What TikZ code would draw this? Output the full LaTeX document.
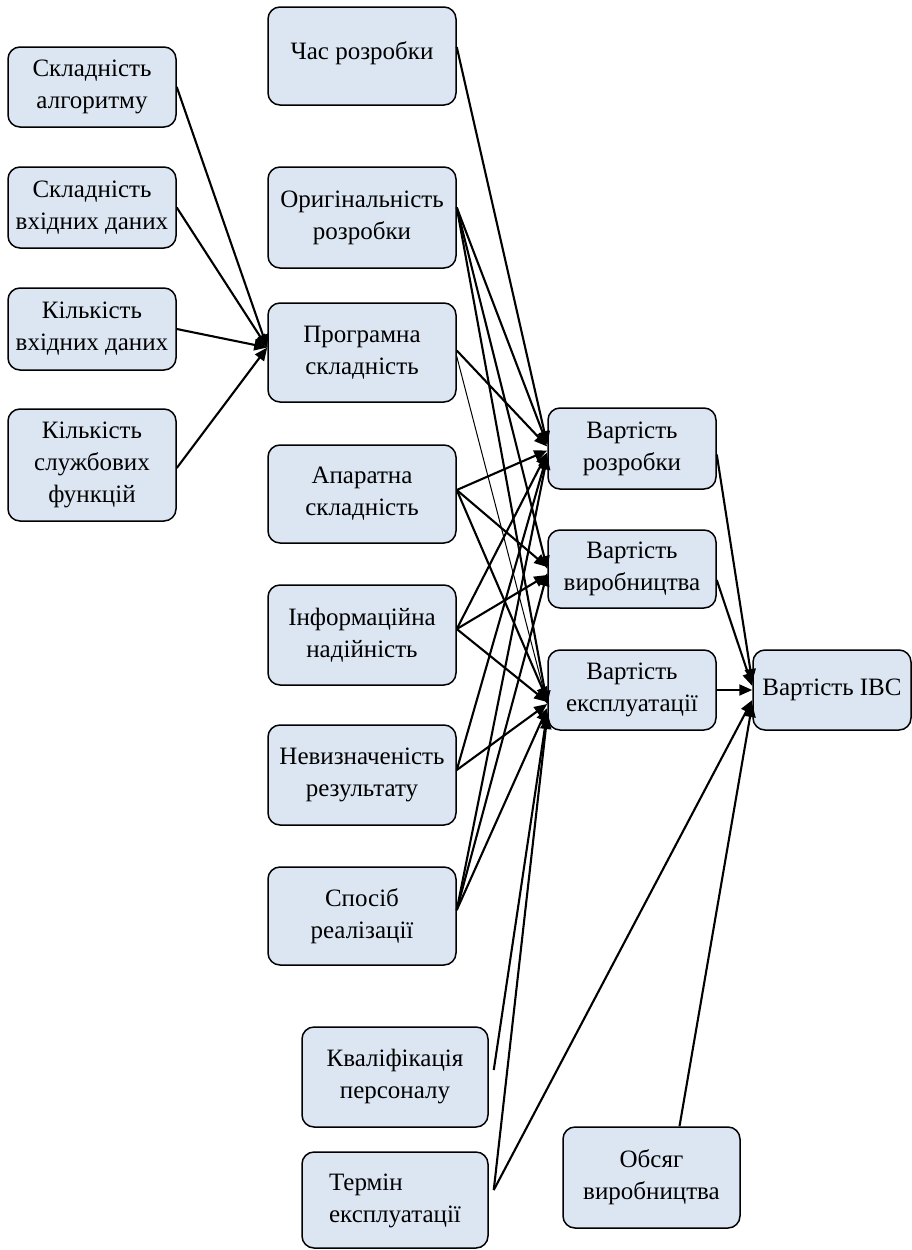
\documentclass[tikz,border=0pt]{standalone}
\usepackage{fontspec}
\setmainfont{Liberation Serif}
\usetikzlibrary{arrows.meta}
\definecolor{boxblue}{RGB}{220,230,242}
\begin{document}
\begin{tikzpicture}[x=1pt,y=-1pt,
  box/.style={draw=black, line width=1.5pt, rounded corners=12pt, fill=boxblue, align=center, inner sep=0pt, font=\fontsize{25}{32}\selectfont},
  conn/.style={line width=2.1pt, -{Triangle[length=13pt,width=11pt]}},
  thinconn/.style={line width=1pt, -{Triangle[length=13pt,width=11pt]}},
]
\useasboundingbox (0,0) rectangle (912,1250);
% left column
\node[box, minimum width=168pt, minimum height=80pt] (alg) at (92,87) {Складність\\алгоритму};
\node[box, minimum width=168pt, minimum height=81pt] (vkh) at (92,207.5) {Складність\\вхідних даних};
\node[box, minimum width=168pt, minimum height=82pt] (kvd) at (92,329) {Кількість\\вхідних даних};
\node[box, minimum width=168pt, minimum height=112pt] (slf) at (92,465) {Кількість\\службових\\функцій};
% middle column
\node[box, minimum width=188pt, minimum height=98pt] (chas) at (362,56) {\raisebox{10pt}{Час розробки}};
\node[box, minimum width=188pt, minimum height=101pt] (orig) at (362,217.5) {Оригінальність\\розробки};
\node[box, minimum width=188pt, minimum height=99pt] (prog) at (362,352.5) {Програмна\\складність};
\node[box, minimum width=188pt, minimum height=98pt] (apar) at (362,494) {Апаратна\\складність};
\node[box, minimum width=188pt, minimum height=100pt] (inf) at (362,635) {Інформаційна\\надійність};
\node[box, minimum width=188pt, minimum height=100pt] (nev) at (362,775) {Невизначеність\\результату};
\node[box, minimum width=188pt, minimum height=98pt] (spos) at (362,916) {Спосіб\\реалізації};
\node[box, minimum width=186pt, minimum height=100pt] (kval) at (395,1077) {Кваліфікація\\персоналу};
\node[box, minimum width=186pt, minimum height=96pt] (term) at (395,1200) {\raisebox{9pt}{\begin{tabular}{@{}l@{}}Термін\\експлуатації\end{tabular}}};
% right column
\node[box, minimum width=168pt, minimum height=81pt] (vrozr) at (632,448.5) {Вартість\\розробки};
\node[box, minimum width=168pt, minimum height=78pt] (vvyr) at (632,569) {Вартість\\виробництва};
\node[box, minimum width=168pt, minimum height=80pt] (vexp) at (632,690) {Вартість\\експлуатації};
\node[box, minimum width=158pt, minimum height=80pt] (ivs) at (832,690) {Вартість ІВС};
\node[box, minimum width=177pt, minimum height=101pt] (obs) at (651.5,1177.5) {Обсяг\\виробництва};
% left -> prog
\draw[conn] (alg.east) -- ([yshift=5pt]prog.west);
\draw[conn] (vkh.east) -- ([yshift=5pt]prog.west);
\draw[conn] (kvd.east) -- ([yshift=5pt]prog.west);
\draw[conn] ([yshift=-3pt]slf.east) -- ([yshift=5pt]prog.west);
% middle -> right
\draw[conn] ([yshift=9pt]chas.east) -- ([yshift=4pt]vrozr.west);
\draw[conn] ([yshift=10pt]orig.east) -- ([yshift=4pt]vrozr.west);
\draw[conn] ([yshift=10pt]orig.east) -- (vvyr.west);
\draw[conn] ([yshift=10pt]orig.east) -- ([yshift=-14pt]vexp.west);
\draw[conn] ([yshift=2pt]prog.east) -- ([yshift=2pt]vrozr.west);
\draw[thinconn] ([yshift=-4pt]prog.east) -- ([yshift=-14pt]vexp.west);
\draw[conn] ([yshift=4pt]apar.east) -- ([yshift=-2pt]vrozr.west);
\draw[conn] ([yshift=4pt]apar.east) -- ([yshift=2pt]vvyr.west);
\draw[conn] ([yshift=4pt]apar.east) -- ([yshift=-10pt]vexp.west);
\draw[conn] ([yshift=6pt]inf.east) -- ([yshift=-4pt]vrozr.west);
\draw[conn] ([yshift=6pt]inf.east) -- ([yshift=-6pt]vvyr.west);
\draw[conn] ([yshift=6pt]inf.east) -- ([yshift=-12pt]vexp.west);
\draw[conn] ([yshift=5pt]nev.east) -- ([yshift=-6pt]vrozr.west);
\draw[conn] ([yshift=5pt]nev.east) -- ([yshift=-14pt]vexp.west);
\draw[conn] ([yshift=6pt]spos.east) -- ([yshift=-8pt]vrozr.west);
\draw[conn] ([yshift=6pt]spos.east) -- ([yshift=-4pt]vvyr.west);
\draw[conn] ([yshift=6pt]spos.east) -- ([yshift=-18pt]vexp.west);
\draw[conn] ([xshift=5pt,yshift=7pt]kval.east) -- ([yshift=-22pt]vexp.west);
\draw[conn] ([xshift=5pt,yshift=10pt]term.east) -- ([yshift=-26pt]vexp.west);
\draw[conn] ([xshift=5pt,yshift=10pt]term.east) -- ([yshift=-10pt]ivs.west);
% right -> IVS
\draw[conn] ([yshift=-6pt]vrozr.east) -- ([yshift=8pt]ivs.west);
\draw[conn] ([yshift=-11pt]vvyr.east) -- ([yshift=4pt]ivs.west);
\draw[conn] (vexp.east) -- (ivs.west);
\draw[conn] ([xshift=28pt]obs.north) -- ([yshift=-14pt]ivs.west);
\end{tikzpicture}
\end{document}
